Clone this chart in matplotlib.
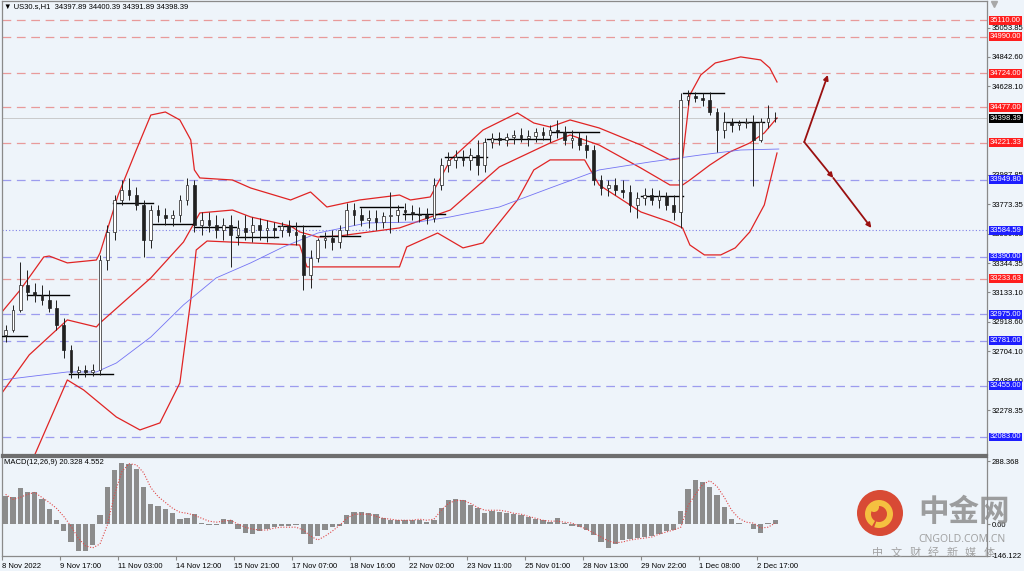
import matplotlib
matplotlib.use("Agg")
import matplotlib.pyplot as plt
from matplotlib.patches import Rectangle, Circle, Wedge
from matplotlib.transforms import blended_transform_factory

plt.rcParams['font.family'] = ['Liberation Sans', 'DejaVu Sans']

# ---- values ----
title = "\u25bc US30.s,H1  34397.89 34400.39 34391.89 34398.39"
macd_title = "MACD(12,26,9) 20.328 4.552"
bar_hours = 4      # one drawn candle = 4 H1 bars
label_every = 32   # H1 bars between time labels

bar_open = [32824, 32860, 33005, 33187, 33136, 33114, 33078, 33020, 32896, 32715,
            32555, 32570, 32555, 32570, 33368, 33572, 33804, 33877, 33840, 33768,
            33514, 33731, 33695, 33673, 33695, 33804, 33913, 33623, 33659, 33623,
            33586, 33623, 33550, 33601, 33572, 33623, 33586, 33601, 33586, 33615,
            33572, 33550, 33259, 33383, 33514, 33528, 33499, 33586, 33731, 33695,
            33659, 33673, 33644, 33688, 33695, 33731, 33717, 33702, 33695, 33673,
            33913, 34058, 34095, 34116, 34095, 34131, 34058, 34225, 34254, 34240,
            34262, 34276, 34254, 34269, 34298, 34276, 34312, 34298, 34240, 34254,
            34203, 34167, 33949, 33891, 33913, 33877, 33862, 33768, 33819, 33840,
            33804, 33833, 33768, 33717, 34530, 34559, 34545, 34530, 34443, 34312,
            34371, 34349, 34363, 34371, 34240, 34371, 34400]
bar_high = [32896, 33042, 33354, 33296, 33201, 33187, 33150, 33078, 32947, 32751,
            32599, 32606, 32613, 33405, 33623, 33840, 33949, 33964, 33899, 33804,
            33768, 33768, 33746, 33731, 33840, 33964, 33949, 33717, 33717, 33695,
            33673, 33695, 33659, 33695, 33681, 33673, 33659, 33644, 33644, 33659,
            33644, 33623, 33441, 33528, 33572, 33586, 33623, 33782, 33782, 33746,
            33731, 33731, 33717, 33862, 33768, 33782, 33768, 33753, 33746, 33964,
            34109, 34153, 34167, 34167, 34182, 34240, 34254, 34291, 34298, 34291,
            34312, 34327, 34312, 34327, 34334, 34349, 34385, 34341, 34312, 34298,
            34276, 34203, 33986, 33949, 33964, 33949, 33913, 33862, 33891, 33891,
            33877, 33862, 33840, 34581, 34603, 34588, 34581, 34588, 34472, 34443,
            34400, 34385, 34400, 34421, 34400, 34494, 34443]
bar_low = [32773, 32845, 32991, 33078, 33063, 33042, 32991, 32860, 32657, 32511,
           32511, 32519, 32526, 32533, 33296, 33514, 33768, 33804, 33731, 33390,
           33456, 33644, 33623, 33615, 33644, 33768, 33572, 33550, 33572, 33528,
           33514, 33318, 33477, 33514, 33499, 33514, 33499, 33528, 33535, 33543,
           33477, 33150, 33165, 33354, 33456, 33441, 33456, 33550, 33623, 33615,
           33601, 33586, 33601, 33564, 33644, 33659, 33659, 33644, 33630, 33644,
           33877, 34007, 34036, 34051, 34022, 33986, 34007, 34182, 34203, 34196,
           34211, 34225, 34196, 34225, 34240, 34225, 34254, 34203, 34182, 34167,
           34109, 33913, 33840, 33833, 33840, 33819, 33717, 33673, 33768, 33768,
           33746, 33731, 33659, 33601, 34494, 34516, 34487, 34421, 34153, 34254,
           34298, 34312, 34327, 33906, 34225, 34327, 34371]
bar_close = [32860, 33005, 33187, 33136, 33114, 33078, 33020, 32896, 32715, 32555,
             32570, 32555, 32570, 33368, 33572, 33804, 33877, 33840, 33768, 33514,
             33731, 33695, 33673, 33695, 33804, 33913, 33623, 33659, 33623, 33586,
             33623, 33550, 33601, 33572, 33623, 33586, 33601, 33586, 33615, 33572,
             33550, 33259, 33383, 33514, 33528, 33499, 33586, 33731, 33695, 33659,
             33673, 33644, 33688, 33695, 33731, 33717, 33702, 33695, 33673, 33913,
             34058, 34095, 34116, 34095, 34131, 34058, 34225, 34254, 34240, 34262,
             34276, 34254, 34269, 34298, 34276, 34312, 34298, 34240, 34254, 34203,
             34167, 33949, 33891, 33913, 33877, 33862, 33768, 33819, 33840, 33804,
             33833, 33768, 33717, 34530, 34559, 34545, 34530, 34443, 34312, 34371,
             34349, 34363, 34371, 34240, 34371, 34400, 34398.39]

time_labels = ["8 Nov 2022", "9 Nov 17:00", "11 Nov 03:00", "14 Nov 12:00",
               "15 Nov 21:00", "17 Nov 07:00", "18 Nov 16:00", "22 Nov 02:00",
               "23 Nov 11:00", "25 Nov 01:00", "28 Nov 13:00", "29 Nov 22:00",
               "1 Dec 08:00", "2 Dec 17:00"]

red_levels = [35110.00, 34990.00, 34724.00, 34477.00, 34221.33, 33233.63]
blue_levels = [33949.80, 33390.00, 32975.00, 32781.00, 32455.00, 32083.00]
dotted_level = 33584.59
bid_price = 34398.39
price_ticks = [35053.85, 34842.60, 34628.10, 33987.85, 33773.35, 33559.35,
               33344.35, 33133.10, 32918.60, 32704.10, 32489.60, 32278.35]

# indicator nodes as (H1 bar index, price)
bb_upper = [(0, 32991), (10, 33150), (23, 33390), (26, 33397), (36, 33347), (52, 33368),
            (54, 33419), (64, 33840), (74, 34167), (82, 34421), (90, 34443), (98, 34385),
            (104, 34240), (106, 34022), (109, 33964), (127, 33949), (137, 33891),
            (159, 33804), (170, 33862), (179, 33753), (197, 33804), (219, 33840),
            (225, 33804), (236, 33826), (247, 34095), (265, 34312), (284, 34436),
            (293, 34363), (302, 34334), (313, 34385), (329, 34327), (352, 34203),
            (368, 34095), (375, 34109), (379, 34567), (385, 34712), (393, 34799),
            (407, 34843), (418, 34821), (423, 34763), (427, 34661)]
bb_mid = [(0, 32403), (15, 32679), (36, 32933), (52, 32882), (54, 32911), (82, 33238),
          (100, 33499), (109, 33710), (127, 33731), (137, 33681), (159, 33615),
          (164, 33572), (174, 33535), (186, 33543), (219, 33601), (247, 33731),
          (274, 34044), (302, 34218), (313, 34276), (329, 34203), (352, 34036),
          (368, 33913), (375, 33913), (379, 33949), (390, 34058), (401, 34153),
          (412, 34218), (420, 34291), (427, 34400)]
bb_lower = [(13, 31771), (18, 31952), (36, 32497), (45, 32424), (63, 32228), (76, 32134),
            (87, 32185), (98, 32475), (104, 33078), (107, 33441), (113, 33506),
            (137, 33492), (164, 33477), (168, 33318), (219, 33318), (223, 33463),
            (240, 33564), (254, 33456), (265, 33492), (284, 33804), (293, 34022),
            (302, 34095), (321, 34095), (329, 33913), (352, 33717), (368, 33644),
            (375, 33601), (379, 33477), (387, 33405), (396, 33405), (404, 33456),
            (412, 33572), (420, 33768), (427, 34145)]
ma_line = [(0, 32497), (36, 32555), (52, 32555), (63, 32620), (82, 32809), (100, 33042),
           (118, 33238), (137, 33347), (155, 33463), (174, 33564), (201, 33637),
           (229, 33644), (247, 33681), (274, 33753), (302, 33891), (329, 34022),
           (357, 34080), (385, 34131), (407, 34167), (428, 34174)]

# short black daily lines: (from bar, to bar, price)
daily_lines = [(0, 14, 32816), (14, 37, 33114), (37, 61, 32541), (61, 83, 33782),
               (83, 106, 33630), (106, 129, 33608), (129, 152, 33535), (152, 175, 33615),
               (175, 197, 33543), (197, 221, 33753), (221, 244, 33702), (244, 267, 34116),
               (267, 302, 34247), (302, 329, 34298), (352, 375, 33833), (375, 398, 34581),
               (398, 420, 34371)]

# analyst arrows: ((bar, price) from, (bar, price) to)
arrows = [((442, 34225), (455, 34712)),
          ((442, 34225), (458, 33964)),
          ((458, 33964), (479, 33601))]

macd_hist = [130, 125, 165, 150, 148, 115, 70, 20, -30, -80,
             -125, -125, -95, 40, 170, 250, 280, 278, 255, 170,
             95, 85, 70, 50, 25, 30, 45, 5, -3, -5,
             25, 20, -20, -40, -45, -30, -20, -12, -8, -8,
             -6, -45, -90, -55, -25, -15, -8, 40, 55, 55,
             50, 45, 28, 20, 18, 20, 20, 18, 12, 20,
             75, 110, 115, 110, 90, 75, 50, 62, 58, 50,
             45, 40, 32, 25, 20, 12, 30, 5, -10, -15,
             -25, -50, -80, -110, -90, -75, -70, -65, -60, -55,
             -45, -30, -25, 60, 160, 205, 195, 170, 135, 80,
             25, 5, 2, -20, -40, 5, 20.328]
macd_signal = [137, 114, 123, 137, 146, 123, 100, 73, 36, -9,
               -64, -100, -109, -91, -5, 137, 241, 278, 273, 237,
               168, 127, 100, 73, 55, 50, 41, 27, 14, 9,
               14, 18, 0, -14, -23, -27, -27, -18, -14, -14,
               -14, -27, -55, -73, -55, -32, -5, 27, 46, 46,
               46, 36, 27, 23, 18, 18, 18, 23, 18, 23,
               64, 96, 109, 109, 96, 77, 64, 64, 64, 59,
               50, 46, 36, 27, 18, 14, 14, 9, 5, -9,
               -23, -41, -59, -77, -86, -82, -73, -68, -64, -59,
               -46, -36, -27, -14, 86, 137, 182, 200, 173, 123,
               64, 27, 9, 5, -18, -14, 4.552]
macd_ticks = [288.368, 0.0, -146.122]
macd_tick_labels = ["288.368", "0.00", "-146.122"]

# ---- layout ----
W, H = 1024, 571
BG = '#eef4fa'
FRAME = '#8a8a8a'


def px_box(l, t, r, b):
    return [l / W, 1 - b / H, (r - l) / W, (b - t) / H]


fig = plt.figure(figsize=(W / 100, H / 100), dpi=100, facecolor=BG)
ax = fig.add_axes(px_box(2, 1, 987, 455), facecolor=BG)
axm = fig.add_axes(px_box(2, 457, 987, 556), facecolor=BG, sharex=ax)

ax.set_xlim(0, 985 / 1.815)
ax.set_ylim(31952, 35249)
axm.set_ylim(-146.5, 309)

# level lines
for lvl in red_levels:
    ax.axhline(lvl, color='#e89a9a', lw=0.9, dashes=(7, 4.5), zorder=1)
for lvl in blue_levels:
    ax.axhline(lvl, color='#9c9cee', lw=0.9, dashes=(7, 4.5), zorder=1)
ax.axhline(dotted_level, color='#8080e8', lw=0.8, dashes=(1, 2), zorder=1)
ax.axhline(bid_price, color='#c4c4c4', lw=0.6, zorder=1)

# indicators
for pts, col, lw in [(bb_upper, '#e02424', 0.9), (bb_mid, '#e02424', 0.9),
                     (bb_lower, '#e02424', 0.9), (ma_line, '#7474f4', 0.6)]:
    ax.plot([p[0] for p in pts], [p[1] for p in pts], color=col, lw=lw, zorder=2)

for a, b, price in daily_lines:
    ax.plot([a, b], [price, price], color='black', lw=1.0, zorder=3)

# candles
bar_x = [k * bar_hours + bar_hours / 2 for k in range(len(bar_close))]
for x, o, h, l, c in zip(bar_x, bar_open, bar_high, bar_low, bar_close):
    ax.vlines(x, l, h, color='#202020', lw=0.7, zorder=4)
    body = Rectangle((x - 0.75, min(o, c)), 1.5, max(abs(c - o), 4),
                     facecolor='white' if c >= o else '#202020',
                     edgecolor='#202020', lw=0.5, zorder=5)
    ax.add_patch(body)

for (x0, y0), (x1, y1) in arrows:
    ax.annotate('', xy=(x1, y1), xytext=(x0, y0), annotation_clip=False,
                arrowprops=dict(arrowstyle='-|>', color='#9a1010', lw=1.3,
                                mutation_scale=7, shrinkA=0, shrinkB=0))

# right price scale
ax.yaxis.tick_right()
ax.set_yticks(price_ticks)
ax.set_yticklabels([f"{v:.2f}" for v in price_ticks])
ax.tick_params(axis='y', labelsize=5.5, length=2, pad=1.5, color=FRAME)
ax.tick_params(axis='x', bottom=False, labelbottom=False)

tr = blended_transform_factory(ax.transAxes, ax.transData)


def level_tag(value, face):
    ax.text(1.003, value, f"{value:.2f}", transform=tr, fontsize=5.5, color='white',
            va='center', ha='left', zorder=10, clip_on=False,
            bbox=dict(boxstyle='square,pad=0.12', facecolor=face, edgecolor='none'))


for lvl in red_levels:
    level_tag(lvl, '#ff1e1e')
for lvl in blue_levels + [dotted_level]:
    level_tag(lvl, '#1e1eff')
level_tag(bid_price, '#000000')

ax.text(0.002, 0.987, title, transform=ax.transAxes, fontsize=5.5, va='center', ha='left')

# MACD panel
axm.bar(bar_x, macd_hist, width=2.9, color='#8c8c8c', linewidth=0, zorder=2)
axm.plot(bar_x, macd_signal, color='#e04848', lw=0.8, dashes=(1, 1.5), zorder=3)
axm.yaxis.tick_right()
axm.set_yticks(macd_ticks)
axm.set_yticklabels(macd_tick_labels)
axm.tick_params(axis='y', labelsize=5.5, length=2, pad=1.5, color=FRAME)
axm.set_xticks([j * label_every for j in range(len(time_labels))])
axm.set_xticklabels(time_labels, ha='left')
axm.tick_params(axis='x', labelsize=5.5, length=3, pad=2, color=FRAME)
axm.text(0.002, 0.94, macd_title, transform=axm.transAxes, fontsize=5.5, va='center', ha='left')

for a in (ax, axm):
    for s in a.spines.values():
        s.set_color(FRAME)
        s.set_linewidth(0.9)
ax.spines['bottom'].set_color('#6e6e6e')
ax.spines['bottom'].set_linewidth(1.6)
axm.spines['top'].set_color('#6e6e6e')
axm.spines['top'].set_linewidth(1.6)

# watermark overlay in pixel coordinates
ov = fig.add_axes([0, 0, 1, 1], facecolor='none', zorder=20)
ov.set_xlim(0, W)
ov.set_ylim(H, 0)
ov.axis('off')
ov.plot(994, 4, marker='v', color='#a8a8a8', ms=4)
ov.add_patch(Circle((880, 513), 23, facecolor='#d7412a', edgecolor='none', alpha=0.95))
ov.add_patch(Wedge((879, 514), 14, 120, 470, width=6, facecolor='#f5c040', edgecolor='none'))
ov.add_patch(Circle((874, 507), 5, facecolor='#f5c040', edgecolor='none'))
ov.text(964, 512, "中金网", fontsize=22, color='#8e8e8e', ha='center', va='center',
        family=['Noto Sans CJK SC'], fontweight='bold', alpha=0.85)
ov.text(962, 540, "CNGOLD.COM.CN", fontsize=7.5, color='#9a9a9a', ha='center', va='center',
        family=['Noto Sans', 'DejaVu Sans'], alpha=0.9)
for j, ch in enumerate("中文财经新媒体"):
    ov.text(878 + j * 18.5, 553, ch, fontsize=8, color='#9a9a9a', ha='center', va='center',
            family=['Noto Sans CJK SC'], alpha=0.9)

fig.savefig("out.png", dpi=100, facecolor=BG)
